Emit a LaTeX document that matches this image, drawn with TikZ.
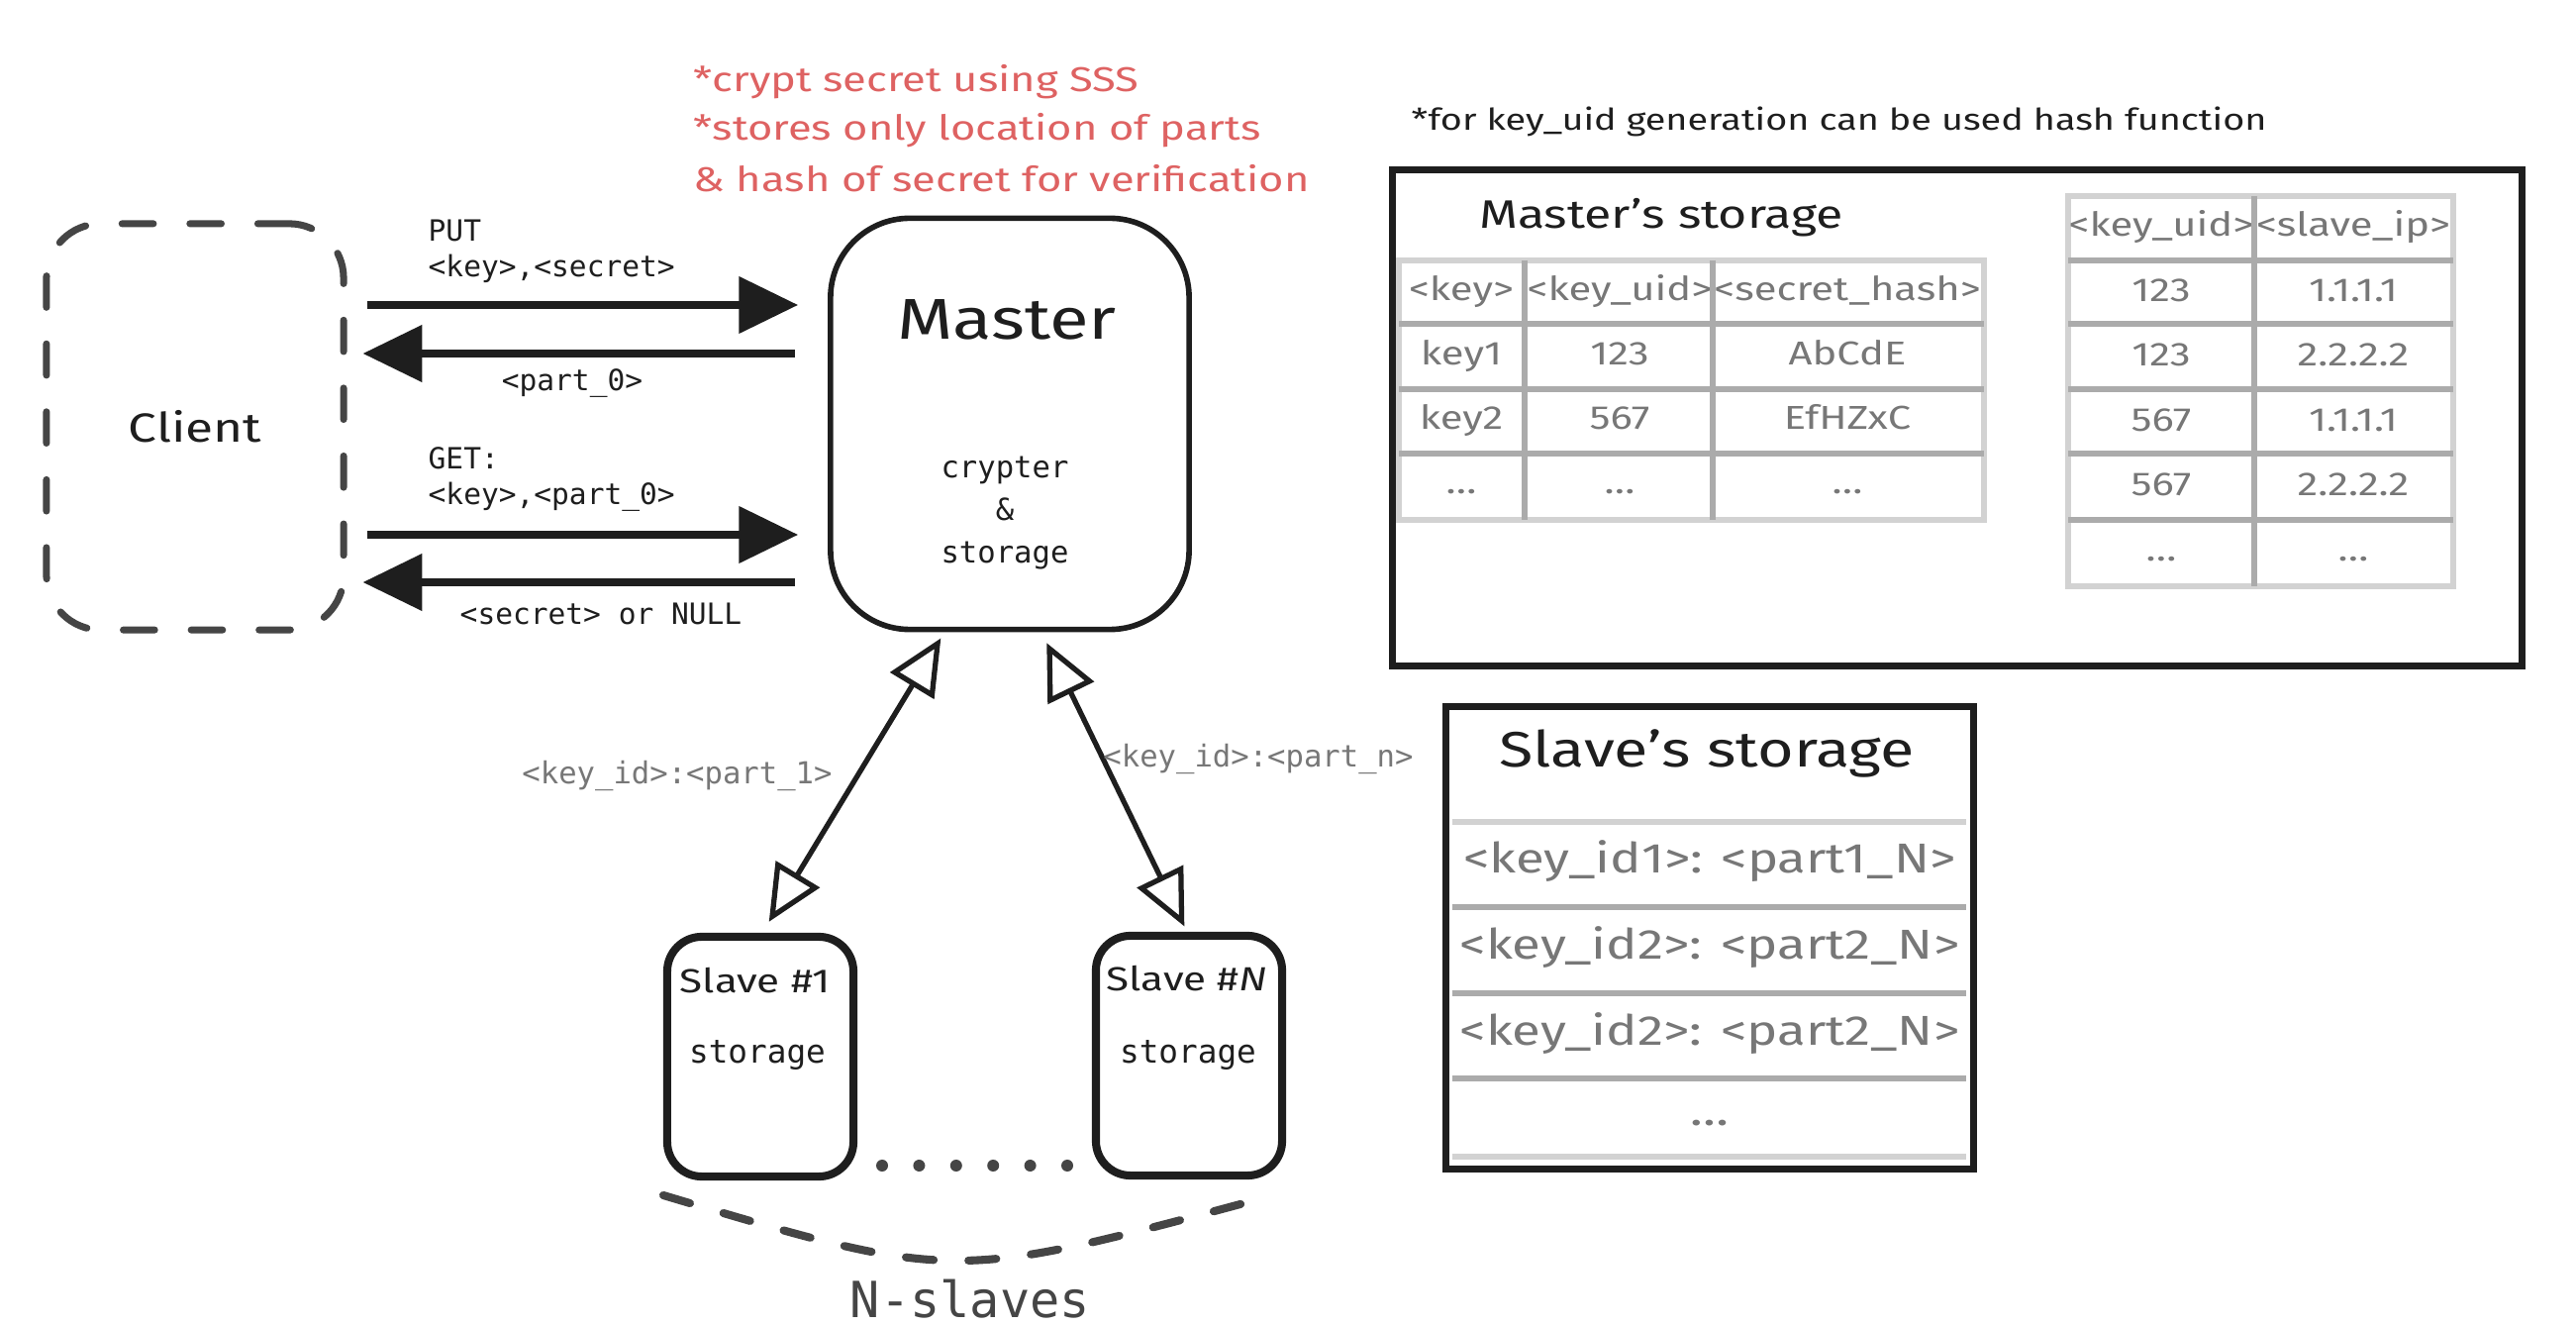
\documentclass[tikz,border=0pt]{standalone}
\usepackage{fontspec}
\setmainfont{Fira Sans}[FakeStretch=1.25]
\setmonofont{DejaVu Sans Mono}
\usetikzlibrary{arrows.meta}

\definecolor{inkblack}{HTML}{1E1E1E}
\definecolor{inkgray}{HTML}{454545}
\definecolor{notered}{HTML}{DE6262}
\definecolor{textgray}{HTML}{777777}
\definecolor{gridlight}{HTML}{D2D2D2}
\definecolor{griddark}{HTML}{ABABAB}

\tikzset{
  clientbox/.style={draw=inkgray, line width=2pt, dash pattern=on 9pt off 10.5pt, line cap=round,
    rounded corners=0.55cm, minimum width=3cm, minimum height=4.1cm,
    font=\fontsize{11.7pt}{14pt}\selectfont, text=inkblack},
  masterbox/.style={draw=inkblack, line width=1.6pt, rounded corners=0.8cm,
    minimum width=3.62cm, minimum height=4.15cm},
  slavebox/.style={draw=inkblack, line width=2.3pt, rounded corners=0.35cm,
    minimum width=1.88cm, minimum height=2.42cm},
  storebox/.style={draw=inkblack, line width=2pt},
  codetext/.style={font=\ttfamily\fontsize{8.4pt}{10pt}\selectfont, text=inkblack, inner sep=0pt},
  graycode/.style={codetext, text=textgray},
  handtext/.style={font=\fontsize{#1}{1.2\dimexpr#1\relax}\selectfont, text=inkblack, inner sep=0pt},
  notetext/.style={font=\fontsize{9.9pt}{12pt}\selectfont, text=notered, anchor=west, inner sep=0pt},
  cell/.style={font=\fontsize{9.5pt}{12pt}\selectfont, text=textgray,
    text height=0.7em, text depth=0.2em, inner sep=0pt},
  gridouter/.style={draw=gridlight, line width=1.8pt},
  gridinner/.style={draw=griddark, line width=1.8pt},
  callarrow/.style={-{Triangle[length=17pt,width=16pt]}, line width=2pt, draw=inkblack,
    shorten <=0.2cm, shorten >=0.3cm},
  replyarrow/.style={{Triangle[length=17pt,width=16pt]}-, line width=2pt, draw=inkblack,
    shorten <=0.16cm, shorten >=0.33cm},
  slavelink/.style={{Triangle[open,length=16pt,width=14.5pt]}-{Triangle[open,length=16pt,width=14.5pt]},
    line width=1.5pt, draw=inkblack, line join=round},
}

\begin{document}
\begin{tikzpicture}[x=0.01cm, y=-0.01cm]
    \useasboundingbox (0,0) rectangle (2602,1340);

    % Client and master
    \node[clientbox] (client) at (197,431) {Client};
    \node[masterbox] (master) at (1020,428) {};
    \node[handtext=16.5pt] (mastername) at (1017,323) {Master};
    \node[codetext, align=center, font=\ttfamily\fontsize{8.7pt}{12.2pt}\selectfont] (masterrole) at (1015,518) {crypter\\\&\\storage};

    % Notes about the master
    \node[notetext] (note1) at (700,83) {*crypt secret using SSS};
    \node[notetext] (note2) at (700,132) {*stores only location of parts};
    \node[notetext] (note3) at (700,180) {\& hash of secret for verification};

    % PUT request and reply
    \draw[callarrow] (client.east |- 0,308) -- (master.west |- 0,308);
    \draw[replyarrow] (client.east |- 0,357) -- (master.west |- 0,357);
    \node[codetext, anchor=west] (putcmd) at (432,233) {PUT};
    \node[codetext, anchor=west] (putargs) at (432,271) {<key>,<secret>};
    \node[codetext] (putreply) at (578,387) {<part\_0>};

    % GET request and reply
    \draw[callarrow] (client.east |- 0,540) -- (master.west |- 0,540);
    \draw[replyarrow] (client.east |- 0,588) -- (master.west |- 0,588);
    \node[codetext, anchor=west] (getcmd) at (432,463) {GET:};
    \node[codetext, anchor=west] (getargs) at (432,502) {<key>,<part\_0>};
    \node[codetext] (getreply) at (607,620) {<secret> or NULL};

    % Slaves
    \node[slavebox] (slave1) at (768,1067) {};
    \node[slavebox] (slaveN) at (1201,1066) {};
    \node[handtext=9.6pt] (slave1name) at (763,990) {Slave \#1};
    \node[codetext, font=\ttfamily\fontsize{9.3pt}{11pt}\selectfont] (slave1role) at (765,1066) {storage};
    \node[handtext=9.6pt] (slaveNname) at (1199,988) {Slave \#\textit{N}};
    \node[codetext, font=\ttfamily\fontsize{9.3pt}{11pt}\selectfont] (slaveNrole) at (1200,1066) {storage};

    % Links between master and slaves
    \draw[slavelink, shorten <=0.07cm, shorten >=0.13cm] (master.south -| 954,0) -- (slave1.north -| 770,0);
    \draw[slavelink, shorten <=0.12cm, shorten >=0.06cm] (master.south -| 1052,0) -- (slaveN.north -| 1199,0);
    \node[graycode, font=\ttfamily\fontsize{8.7pt}{10pt}\selectfont] (part1lbl) at (684,783) {<key\_id>:<part\_1>};
    \node[graycode, font=\ttfamily\fontsize{8.7pt}{10pt}\selectfont] (partnlbl) at (1271,766) {<key\_id>:<part\_n>};

    % More slaves in between
    \foreach \i in {0,...,5}
        \fill[inkgray] ({891+\i*37.4},1177) circle (0.06cm);
    \draw[inkgray, line width=2.3pt, dash pattern=on 8pt off 10pt, line cap=round]
        (670,1207) .. controls (962,1294) .. (1264,1213);
    \node[codetext, text=inkgray, font=\ttfamily\fontsize{14.3pt}{16pt}\selectfont] (nslaves) at (980,1312) {N-slaves};

    % Master's storage
    \node[handtext=8.6pt, anchor=west] (uidnote) at (1425,123) {*for key\_uid generation can be used hash function};
    \node[storebox, minimum width=11.4cm, minimum height=5cm] (mstore) at (1977,422) {};
    \node[handtext=11.4pt] (mstoretitle) at (1678,220) {Master's storage};

    % Table of keys
    \draw[gridouter] (1413,263) rectangle (2004,525);
    \foreach \yy in {327,393,458}
        \draw[gridinner] (1413,\yy) -- (2004,\yy);
    \foreach \xx in {1540,1730}
        \draw[gridinner] (\xx,263) -- (\xx,525);
    \foreach \ka/\kb/\kc [count=\r] in {{<key>}/{<key\_uid>}/{<secret\_hash>}, key1/123/AbCdE, key2/567/EfHZxC, {\ldots}/{\ldots}/{\ldots}}
    {
        \node[cell] (keys-\r-1) at (1476,{230+65*\r}) {\ka};
        \node[cell] (keys-\r-2) at (1636,{230+65*\r}) {\kb};
        \node[cell] (keys-\r-3) at (1866,{230+65*\r}) {\kc};
    }

    % Table of part locations
    \draw[gridouter] (2089,198) rectangle (2478,592);
    \foreach \yy in {263,327,393,458,525}
        \draw[gridinner] (2089,\yy) -- (2478,\yy);
    \draw[gridinner] (2277,198) -- (2277,592);
    \foreach \ua/\ub [count=\r from 0] in {{<key\_uid>}/{<slave\_ip>}, 123/1.1.1.1, 123/2.2.2.2, 567/1.1.1.1, 567/2.2.2.2, {\ldots}/{\ldots}}
    {
        \node[cell] (parts-\r-1) at (2183,{230+65.5*\r}) {\ua};
        \node[cell] (parts-\r-2) at (2377,{230+65.5*\r}) {\ub};
    }

    % Slave's storage
    \node[storebox, minimum width=5.33cm, minimum height=4.67cm] (sstore) at (1727,947) {};
    \node[handtext=14.3pt] (sstoretitle) at (1724,761) {Slave's storage};
    \draw[gridouter] (1467,830) -- (1986,830);
    \draw[gridouter] (1467,1168) -- (1986,1168);
    \foreach \yy in {916,1003,1089}
        \draw[gridinner] (1467,\yy) -- (1986,\yy);
    \node[cell, font=\fontsize{12pt}{14pt}\selectfont] (srow1) at (1727,873) {<key\_id1>: <part1\_N>};
    \node[cell, font=\fontsize{12pt}{14pt}\selectfont] (srow2) at (1727,960) {<key\_id2>: <part2\_N>};
    \node[cell, font=\fontsize{12pt}{14pt}\selectfont] (srow3) at (1727,1047) {<key\_id2>: <part2\_N>};
    \node[cell, font=\fontsize{12pt}{14pt}\selectfont] (srow4) at (1727,1128) {\ldots};
\end{tikzpicture}
\end{document}
